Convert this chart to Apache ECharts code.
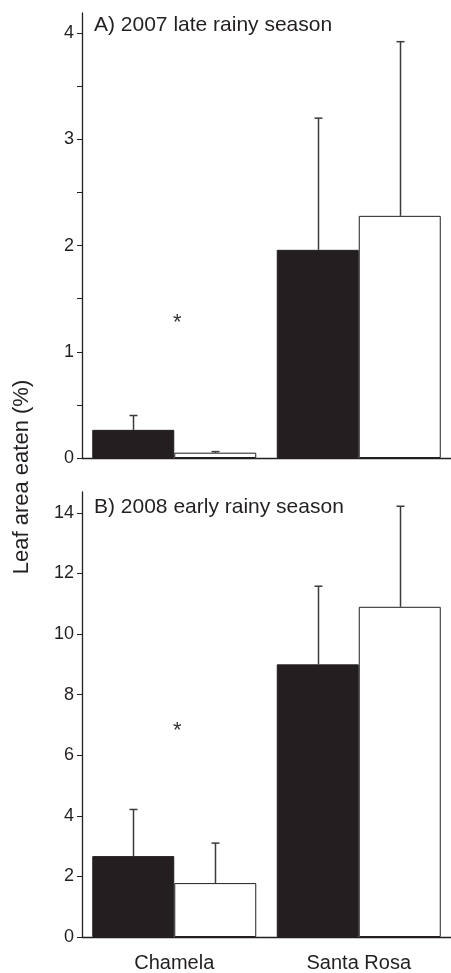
<!DOCTYPE html>
<html lang="en">
<head>
<meta charset="UTF-8">
<title>Leaf area eaten</title>
<script src="https://cdn.jsdelivr.net/npm/echarts@6/dist/echarts.min.js"></script>
<style>
  html, body { margin: 0; padding: 0; background: #fff; }
  #chart { width: 451px; height: 973px; }
</style>
</head>
<body>
<div id="chart"></div>
<script>
var sites = ['Chamela', 'Santa Rosa'];

// A) 2007 late rainy season
var blackA = [0.265, 1.96];
var blackErrA = [0.40, 3.20];
var whiteA = [0.05, 2.28];
var whiteErrA = [0.06, 3.92];
var starA = [1.32];          // asterisk above Chamela

// B) 2008 early rainy season
var blackB = [2.67, 9.0];
var blackErrB = [4.21, 11.58];
var whiteB = [1.78, 10.9];
var whiteErrB = [3.10, 14.22];
var starB = [6.97];

var labelsA = [0, 1, 2, 3, 4];
var ticksA = [0, 0.5, 1, 1.5, 2, 2.5, 3, 3.5, 4];
var labelsB = [0, 2, 4, 6, 8, 10, 12, 14];

var ink = '#231f20';
var font = '"Liberation Sans", Arial, sans-serif';

var chart = echarts.init(document.getElementById('chart'));

function xAxis(grid, showLabels) {
    return {
        type: 'category', gridIndex: grid, data: sites,
        axisLine: { lineStyle: { color: ink, width: 1.3 } },
        axisTick: { show: false },
        axisLabel: { show: showLabels, color: ink, fontSize: 20, fontFamily: font, margin: 16 }
    };
}

function yAxis(grid, max, labels, ticks) {
    return {
        type: 'value', gridIndex: grid, min: 0, max: max,
        splitLine: { show: false },
        axisLine: { show: true, lineStyle: { color: ink, width: 1.3 } },
        axisTick: { show: true, length: 5, customValues: ticks, lineStyle: { color: ink, width: 1 } },
        axisLabel: { customValues: labels, color: ink, fontSize: 18, fontFamily: font, margin: 8 }
    };
}

function bars(idx, vals, black) {
    return {
        type: 'bar', xAxisIndex: idx, yAxisIndex: idx, data: vals,
        barWidth: 82, barGap: '0%',
        itemStyle: { color: black ? ink : '#fff', borderColor: ink, borderWidth: 1 },
        z: 2
    };
}

// upward error bars, drawn from bar top to cap
function errors(idx, vals, tops, shift) {
    return {
        type: 'custom', xAxisIndex: idx, yAxisIndex: idx, silent: true, z: 3,
        data: vals.map(function (v, i) { return [i, v, tops[i]]; }),
        renderItem: function (params, api) {
            var lo = api.coord([api.value(0), api.value(1)]);
            var hi = api.coord([api.value(0), api.value(2)]);
            var x = Math.round(lo[0] + shift) + 0.5;
            var st = { stroke: '#3a3a3a', lineWidth: 1.5 };
            return {
                type: 'group',
                children: [
                    { type: 'line', shape: { x1: x, y1: lo[1], x2: x, y2: hi[1] }, style: st },
                    { type: 'line', shape: { x1: x - 4, y1: hi[1], x2: x + 4, y2: hi[1] }, style: st }
                ]
            };
        }
    };
}

function star(idx, vals) {
    return {
        type: 'custom', xAxisIndex: idx, yAxisIndex: idx, silent: true, z: 4,
        data: vals.map(function (v, i) { return [i, v]; }),
        renderItem: function (params, api) {
            var p = api.coord([api.value(0), api.value(1)]);
            return {
                type: 'text', x: p[0] + 3, y: p[1] + 5,
                style: { text: '*', fill: '#333', font: '22px ' + font, align: 'center', verticalAlign: 'middle' }
            };
        }
    };
}

chart.setOption({
    animation: false,
    grid: [
        { left: 82, width: 382, top: 13, height: 445 },
        { left: 82, width: 382, top: 492, height: 446 }
    ],
    xAxis: [xAxis(0, false), xAxis(1, true)],
    yAxis: [yAxis(0, 4.19, labelsA, ticksA), yAxis(1, 14.69, labelsB, labelsB)],
    series: [
        bars(0, blackA, true), bars(0, whiteA, false),
        errors(0, blackA, blackErrA, -41), errors(0, whiteA, whiteErrA, 41),
        star(0, starA),
        bars(1, blackB, true), bars(1, whiteB, false),
        errors(1, blackB, blackErrB, -41), errors(1, whiteB, whiteErrB, 41),
        star(1, starB)
    ],
    graphic: [
        { type: 'text', x: 94, y: 25, style: { text: 'A) 2007 late rainy season', fill: ink, font: '21px ' + font, verticalAlign: 'middle' } },
        { type: 'text', x: 94, y: 507, style: { text: 'B) 2008 early rainy season', fill: ink, font: '21px ' + font, verticalAlign: 'middle' } },
        { type: 'text', x: 22, y: 477, rotation: Math.PI / 2, style: { text: 'Leaf area eaten (%)', fill: ink, font: '22px ' + font, align: 'center', verticalAlign: 'middle' } }
    ]
});
</script>
</body>
</html>
